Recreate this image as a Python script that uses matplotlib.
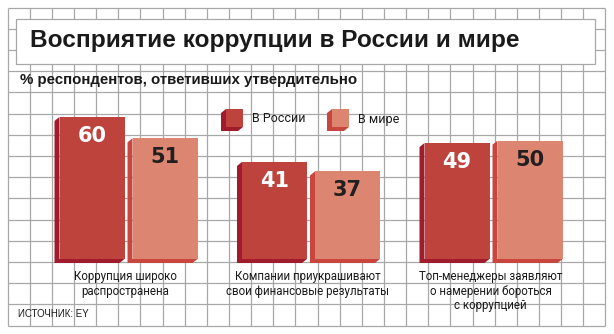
import matplotlib
matplotlib.use("Agg")
import matplotlib.pyplot as plt
import matplotlib.patches as patches
from matplotlib.transforms import IdentityTransform
import numpy as np

W, H = 614, 334

# survey answers, % of respondents who said "yes"
categories = ["Коррупция широко\nраспространена",
              "Компании приукрашивают\nсвои финансовые результаты",
              "Топ-менеджеры заявляют\nо намерении бороться\nс коррупцией"]
russia = [60, 41, 49]
world = [51, 37, 50]
series_names = ["В России", "В мире"]

TITLE = "Восприятие коррупции в России и мире"
SUBTITLE = "% респондентов, ответивших утвердительно"
SOURCE = "ИСТОЧНИК: EY"

RU_FRONT, RU_SIDE = "#bf433d", "#a01b2b"
WO_FRONT, WO_SIDE = "#dc8672", "#c8463d"
GRID = "#a8a8a8"
NARROW = ["Liberation Sans", "DejaVu Sans"]
LIGHT = ["Roboto", "DejaVu Sans"]

fig = plt.figure(figsize=(W / 100, H / 100), dpi=100)

# background in pixel units: graph paper, title box, captions
bg = fig.add_axes([0, 0, 1, 1])
bg.set_xlim(0, W)
bg.set_ylim(H, 0)
bg.axis("off")

xs = 7.5 + 22.148 * np.arange(28)
ys = 7.5 + 21.2 * np.arange(16)
bg.vlines(xs, ys[0], ys[-1], color=GRID, lw=0.9)
bg.hlines(ys, xs[0], xs[-1], color=GRID, lw=0.9)

bg.add_patch(patches.Rectangle((15.5, 18.5), 579, 45, fc="white", ec=GRID, lw=0.9, zorder=3))
bg.text(30, 41, TITLE, fontsize=17.6, fontweight="bold", family=NARROW,
        va="center", ha="left", color="#1a1a1a", zorder=4)
bg.text(20, 80, SUBTITLE, fontsize=10.8, fontweight="bold", family=NARROW,
        va="center", ha="left", color="#1a1a1a", zorder=4)
bg.text(18, 314, SOURCE, fontsize=7, family=NARROW,
        va="center", ha="left", color="#1a1a1a", zorder=4)


def legend_block(x, y, front, side, label):
    w, h, dx, dy = 17, 18, 5, 4
    bg.add_patch(patches.Polygon([(x, y), (x - dx, y + dy), (x - dx, y + h + dy),
                                  (x + w - dx, y + h + dy), (x + w, y + h), (x, y + h)],
                                 closed=True, fc=side, ec="none", zorder=4))
    bg.add_patch(patches.Rectangle((x, y), w, h, fc=front, ec="none", zorder=5))
    bg.text(x + w + 9, y + h / 2 + 1, label, fontsize=9, family=LIGHT,
            va="center", ha="left", color="#1a1a1a", zorder=5)


legend_block(226, 109, RU_FRONT, RU_SIDE, series_names[0])
legend_block(332, 109, WO_FRONT, WO_SIDE, series_names[1])

# bars
ax = fig.add_axes([37.25 / W, 75 / H, 547.5 / W, 70 * 2.367 / H])
ax.set_xlim(-0.5, 2.5)
ax.set_ylim(0, 70)
ax.axis("off")

x = np.arange(len(categories))
bw = 65 / 182.5
off = 36.5 / 182.5
b_ru = ax.bar(x - off, russia, bw, color=RU_FRONT, zorder=3)
b_wo = ax.bar(x + off, world, bw, color=WO_FRONT, zorder=3)


def extrude(bars, color, dx=5, dy=4):
    # darker left side and bottom face to give the bars some depth
    for r in bars:
        (x0, y0), (x1, y1) = ax.transData.transform(
            [(r.get_x(), 0), (r.get_x() + r.get_width(), r.get_height())])
        poly = [(x0, y1), (x0 - dx, y1 - dy), (x0 - dx, y0 - dy),
                (x1 - dx, y0 - dy), (x1, y0), (x0, y0)]
        ax.add_patch(patches.Polygon(poly, closed=True, transform=IdentityTransform(),
                                     fc=color, ec="none", zorder=2, clip_on=False))


extrude(b_ru, RU_SIDE)
extrude(b_wo, WO_SIDE)

for bars, col in ((b_ru, "white"), (b_wo, "#231f20")):
    for r in bars:
        v = r.get_height()
        ax.annotate(f"{v:.0f}", (r.get_x() + r.get_width() / 2, v),
                    xytext=(0, -13.7), textcoords="offset points",
                    ha="center", va="center", fontsize=15, fontweight="bold",
                    color=col, zorder=4)

for i, lab in enumerate(categories):
    ax.annotate(lab, (i, 0), xytext=(-2.2, -8), textcoords="offset points",
                ha="center", va="top", fontsize=8.3, family=LIGHT,
                linespacing=1.15, color="#1a1a1a", annotation_clip=False)

fig.savefig("out.png", dpi=100)
